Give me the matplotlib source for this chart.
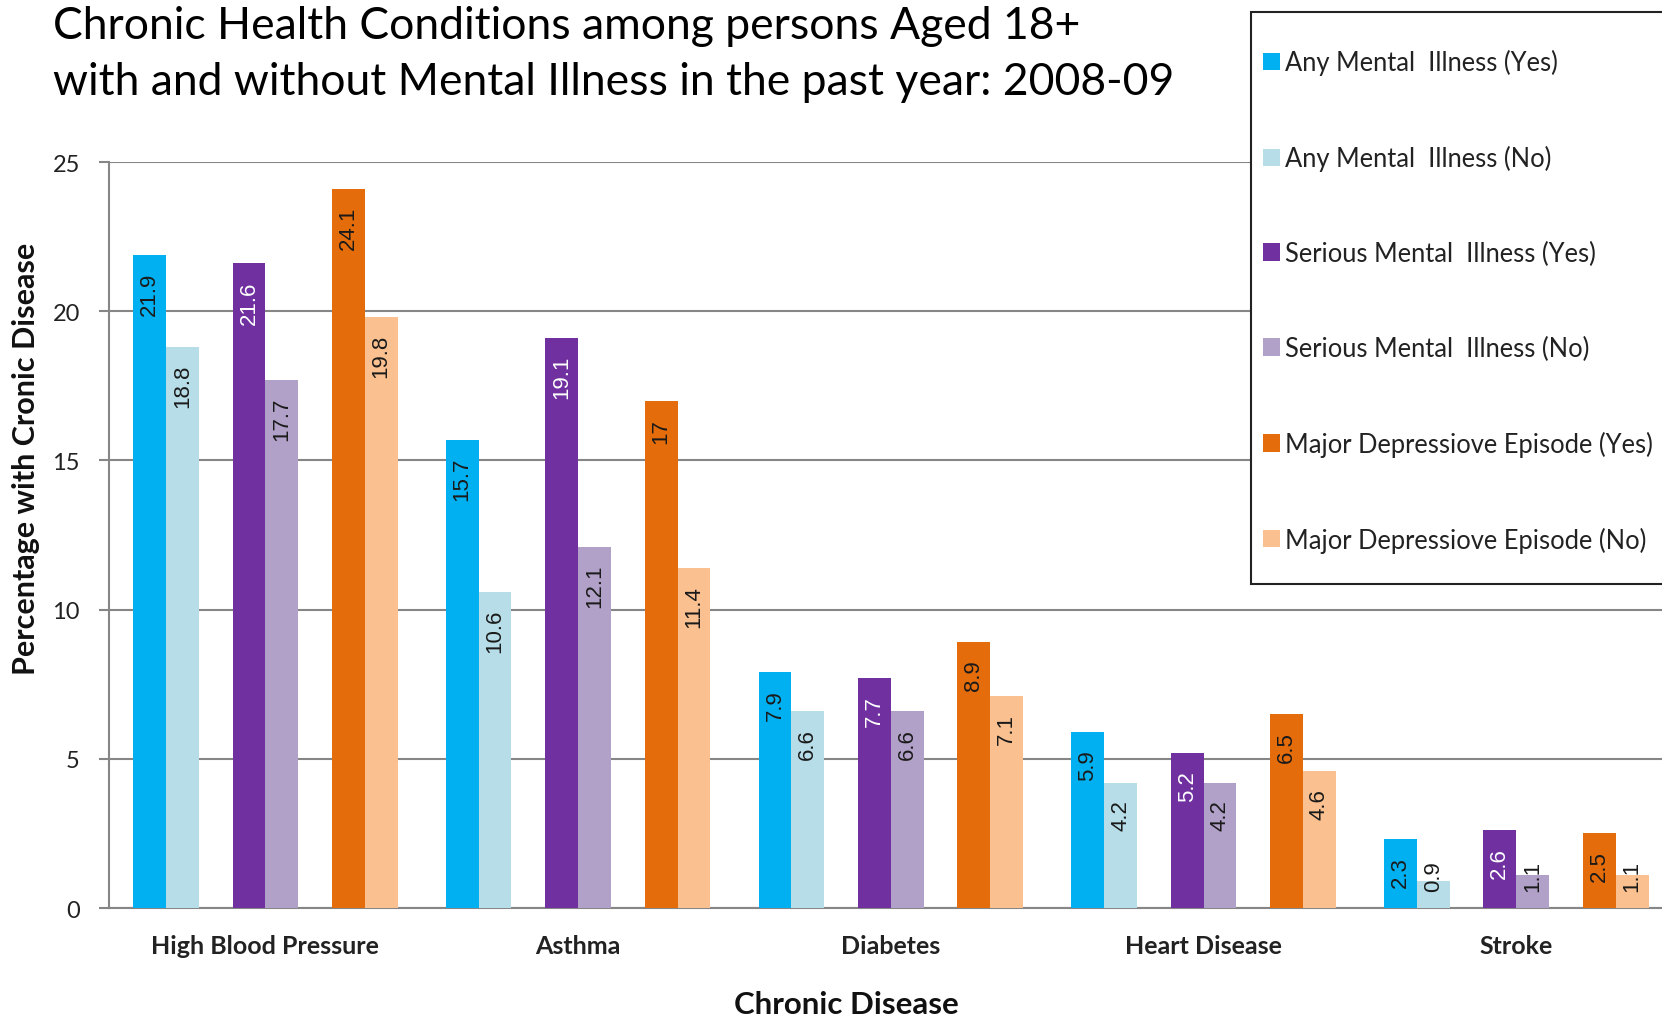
import matplotlib
matplotlib.use("Agg")
import matplotlib.pyplot as plt
from matplotlib.patches import Rectangle
import numpy as np

# Data
diseases = ["High Blood Pressure", "Asthma", "Diabetes", "Heart Disease", "Stroke"]
series_names = [
    "Any Mental  Illness (Yes)",
    "Any Mental  Illness (No)",
    "Serious Mental  Illness (Yes)",
    "Serious Mental  Illness (No)",
    "Major Depressiove Episode (Yes)",
    "Major Depressiove Episode (No)",
]
ami_yes = [21.9, 15.7, 7.9, 5.9, 2.3]
ami_no = [18.8, 10.6, 6.6, 4.2, 0.9]
smi_yes = [21.6, 19.1, 7.7, 5.2, 2.6]
smi_no = [17.7, 12.1, 6.6, 4.2, 1.1]
mde_yes = [24.1, 17.0, 8.9, 6.5, 2.5]
mde_no = [19.8, 11.4, 7.1, 4.6, 1.1]
yticks = [0, 5, 10, 15, 20, 25]

colors = ["#00B0F0", "#B7DDE8", "#7030A0", "#B1A0C7", "#E46C0A", "#FAC090"]
label_colors = ["#1a1a1a", "#1a1a1a", "white", "#1a1a1a", "#1a1a1a", "#1a1a1a"]

W, H = 1662, 1020
plt.rcParams["font.family"] = ["Lato", "DejaVu Sans"]

fig = plt.figure(figsize=(W / 100, H / 100), dpi=100)
ax = fig.add_axes([109 / W, 1 - 909 / H, 1 - 109 / W, (909 - 163) / H])

x = np.arange(len(diseases))
width = 0.105
pair_offsets = [-0.318, 0.0, 0.318]
all_series = [ami_yes, ami_no, smi_yes, smi_no, mde_yes, mde_no]

labels = []
for i, vals in enumerate(all_series):
    off = pair_offsets[i // 2] + (width / 2 if i % 2 else -width / 2)
    bars = ax.bar(x + off, vals, width, color=colors[i], label=series_names[i], zorder=3)
    for rect, v in zip(bars, vals):
        t = ax.annotate(
            f"{v:g}",
            (rect.get_x() + rect.get_width() / 2, rect.get_height()),
            xytext=(0, -12.2), textcoords="offset points",
            rotation=90, ha="center", va="top",
            fontsize=16, family=["Liberation Sans", "DejaVu Sans"],
            color=label_colors[i], zorder=4,
        )
        labels.append((t, rect))

ax.set_xlim(-0.5, 4.466)
ax.set_ylim(0, 25)
ax.set_yticks(yticks)
ax.yaxis.grid(True, color="#868686", linewidth=1.5, zorder=0)
ax.set_axisbelow(True)
for s in ["top", "right"]:
    ax.spines[s].set_visible(False)
for s in ["left", "bottom"]:
    ax.spines[s].set_color("#868686")
    ax.spines[s].set_linewidth(1.5)
ax.tick_params(axis="y", direction="out", length=7.5, width=1.5, color="#868686",
               labelsize=17, labelcolor="#222222", pad=13.5)
ax.tick_params(axis="x", length=0, pad=19)
ax.set_xticks(x)
ax.set_xticklabels(diseases, fontsize=18, fontweight="bold", color="#222222")

# labels that don't fit inside a short bar sit just above the axis
fig.canvas.draw()
base_px = ax.transData.transform((0, 0))[1]
for t, rect in labels:
    ext = t.get_window_extent()
    if ext.y0 < base_px + 17:
        t.xy = (rect.get_x() + rect.get_width() / 2, 0)
        t.set_position((0, 12.2))
        t.set_va("bottom")

fig.text(26.5 / W, 1 - 459 / H, "Percentage with Cronic Disease", rotation=90,
         ha="center", va="center", fontsize=22, fontweight="bold", color="#111111")
fig.text(846 / W, 1 - 1005 / H, "Chronic Disease", ha="center", va="center",
         fontsize=22.5, fontweight="bold", color="#111111")

fig.text(53 / W, 1 - 39 / H, "Chronic Health Conditions among persons Aged 18+",
         fontsize=32, va="baseline", ha="left", color="black")
fig.text(53 / W, 1 - 95 / H, "with and without Mental Illness in the past year: 2008-09",
         fontsize=32, va="baseline", ha="left", color="black")

# legend box drawn separately: tight on the left, roomy top and bottom
box = Rectangle((1251 / W, 1 - 585 / H), 0.3, (585 - 12.7) / H, transform=fig.transFigure,
                facecolor="white", edgecolor="#222222", linewidth=1.5, zorder=1)
fig.patches.append(box)
leg = fig.legend(
    loc="center left", bbox_to_anchor=(1263 / W, 1 - 302 / H),
    frameon=False, fontsize=18.4,
    handlelength=0.67, handleheight=0.67, handletextpad=0.2,
    labelspacing=2.73, borderpad=0, borderaxespad=0,
)
leg.set_zorder(5)
for txt in leg.get_texts():
    txt.set_color("#222222")

fig.savefig("out.png", dpi=100)
